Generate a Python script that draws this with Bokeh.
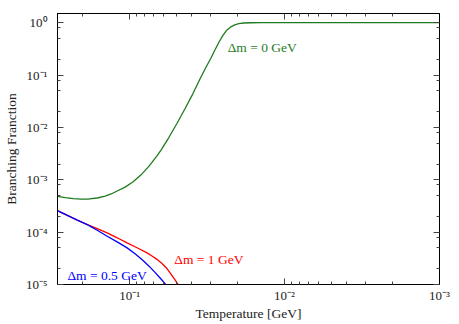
from bokeh.plotting import figure
from bokeh.models import Range1d, FixedTicker, LogAxis, CustomJSTickFormatter, Label
from bokeh.embed import file_html
from bokeh.resources import INLINE

# ---- data ----
T_green = [0.2924, 0.2599, 0.2308, 0.2050, 0.1822, 0.1618, 0.1438, 0.1315, 0.1203, 0.1069,
           0.0949, 0.0843, 0.0749, 0.0666, 0.0627, 0.0557, 0.0495, 0.0440, 0.0390, 0.0347,
           0.0322, 0.0299, 0.0282, 0.02657, 0.02504, 0.02360, 0.02225, 0.02097, 0.01976,
           0.01835, 0.01654, 0.01426, 0.001]
BF_green = [4.82e-4, 4.57e-4, 4.38e-4, 4.28e-4, 4.30e-4, 4.49e-4, 4.89e-4, 5.36e-4, 6.11e-4, 7.25e-4,
            9.15e-4, 1.244e-3, 1.823e-3, 2.865e-3, 3.70e-3, 6.48e-3, 1.188e-2, 2.254e-2, 4.43e-2, 9.10e-2,
            0.1393, 0.2097, 0.2978, 0.4194, 0.5676, 0.7194, 0.8317, 0.912, 0.961,
            0.987, 0.998, 1.0, 1.0]

T_red = [0.2924, 0.2523, 0.2176, 0.1876, 0.1618, 0.1395, 0.1203, 0.1038, 0.0895, 0.0772,
         0.0717, 0.0666, 0.0618, 0.0574, 0.0541, 0.0510, 0.0480]
BF_red = [2.574e-4, 2.094e-4, 1.703e-4, 1.392e-4, 1.168e-4, 9.67e-5, 7.80e-5, 6.23e-5, 5.03e-5, 4.02e-5,
          3.50e-5, 3.02e-5, 2.52e-5, 2.02e-5, 1.585e-5, 1.234e-5, 9.36e-6]

T_blue = [0.2924, 0.2523, 0.2176, 0.1876, 0.1618, 0.1395, 0.1203, 0.1038, 0.0922, 0.0819,
          0.0749, 0.0686, 0.0627, 0.0574]
BF_blue = [2.574e-4, 2.094e-4, 1.703e-4, 1.392e-4, 1.089e-4, 8.33e-5, 6.52e-5, 5.01e-5, 3.87e-5, 2.87e-5,
           2.24e-5, 1.708e-5, 1.273e-5, 9.36e-6]

x_major = [1e-3, 1e-2, 1e-1]
y_major = [1e-5, 1e-4, 1e-3, 1e-2, 1e-1, 1.0]
x_minor_mult = [2, 3, 4, 5, 6, 7, 8, 9]
y_minor_mult = [2, 5, 8]

labels_text = ["Δm = 0 GeV", "Δm = 1 GeV", "Δm = 0.5 GeV"]
labels_T = [0.0233, 0.0515, 0.252]
labels_BF = [0.34, 3.0e-5, 1.5e-5]

GREEN = "#1e7b1e"
RED = "#ff0000"
BLUE = "#0000ff"
labels_color = [GREEN, RED, BLUE]
FONT = "Liberation Serif"

x_minor = [m * d for d in [1e-3, 1e-2, 1e-1] for m in x_minor_mult]
y_minor = [m * d for d in y_major[:-1] for m in y_minor_mult]

p = figure(width=458, height=323, x_axis_type="log", y_axis_type="log",
           x_range=Range1d(0.292, 1e-3), y_range=Range1d(1e-5, 1.5),
           output_backend="svg", toolbar_location=None,
           min_border_left=56, min_border_right=19, min_border_top=13, min_border_bottom=38)

p.xgrid.visible = False
p.ygrid.visible = False
p.outline_line_color = "black"
p.outline_line_width = 1
p.background_fill_color = "white"
p.border_fill_color = "white"

fmt = CustomJSTickFormatter(code="""
const e = Math.round(Math.log10(tick));
const sup = {'-':'\u207b','0':'\u2070','1':'\u00b9','2':'\u00b2','3':'\u00b3','4':'\u2074','5':'\u2075','6':'\u2076','7':'\u2077','8':'\u2078','9':'\u2079'};
return '10' + String(e).split('').map(c => sup[c]).join('');
""")
blank = CustomJSTickFormatter(code="return '';")


def style(ax, ticks, minor, formatter, show):
    ax.ticker = FixedTicker(ticks=ticks, minor_ticks=minor)
    ax.formatter = formatter
    ax.major_tick_in = 6
    ax.major_tick_out = 0
    ax.minor_tick_in = 3
    ax.minor_tick_out = 0
    ax.major_tick_line_color = "#444444"
    ax.minor_tick_line_color = "#444444"
    ax.axis_line_color = "black"
    ax.major_label_text_font = FONT
    ax.major_label_text_font_size = "13px" if show else "0px"
    ax.major_label_text_color = "#222222"
    ax.axis_label_text_font = FONT
    ax.axis_label_text_font_size = "13.5px"
    ax.axis_label_text_font_style = "normal"
    ax.axis_label_text_color = "#222222"


style(p.xaxis[0], x_major, x_minor, fmt, True)
style(p.yaxis[0], y_major, y_minor, fmt, True)
p.xaxis[0].axis_label = "Temperature [GeV]"
p.yaxis[0].axis_label = "Branching Franction"
p.xaxis[0].major_label_standoff = 3
p.xaxis[0].axis_label_standoff = 0
p.yaxis[0].major_label_standoff = 10
p.yaxis[0].axis_label_standoff = 4

top = LogAxis()
right = LogAxis()
style(top, x_major, x_minor, blank, False)
style(right, y_major, y_minor, blank, False)
top.major_label_standoff = 0
right.major_label_standoff = 0
p.add_layout(top, "above")
p.add_layout(right, "right")

p.line(T_green, BF_green, line_color=GREEN, line_width=1.3)
p.line(T_red, BF_red, line_color=RED, line_width=1.3)
p.line(T_blue, BF_blue, line_color=BLUE, line_width=1.3)

for txt, tx, ty, col in zip(labels_text, labels_T, labels_BF, labels_color):
    p.add_layout(Label(x=tx, y=ty, text=txt, text_color=col, text_font=FONT,
                       text_font_size="13.5px", text_align="left", text_baseline="middle"))

open("out.html", "w").write(file_html(p, INLINE))
